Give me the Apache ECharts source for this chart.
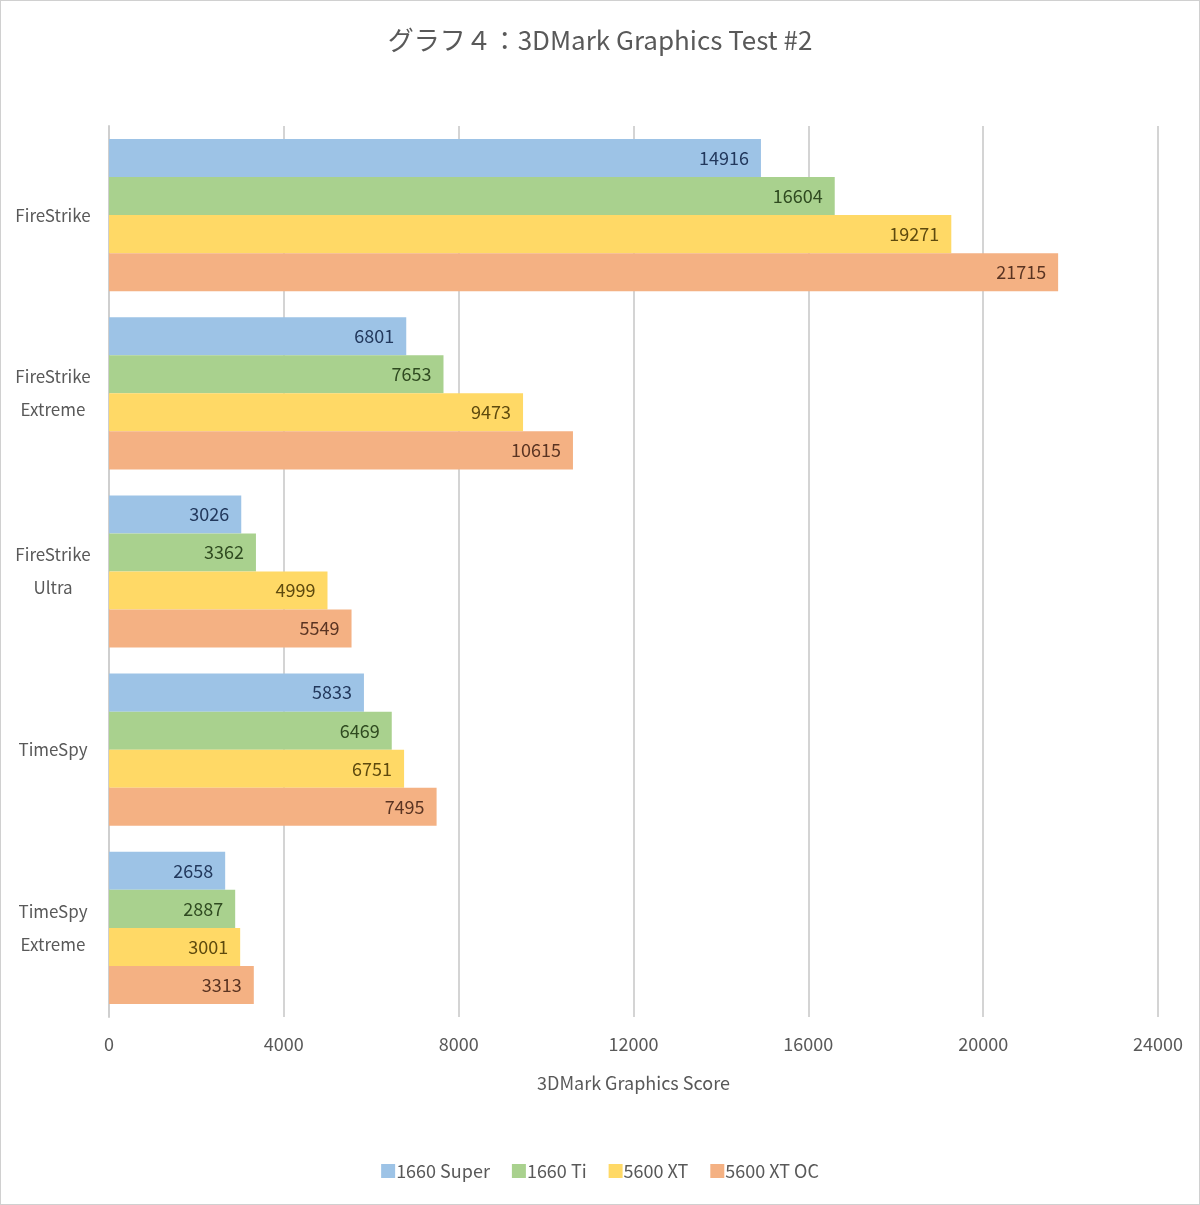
<!DOCTYPE html>
<html>
<head>
<meta charset="utf-8">
<script src="https://cdn.jsdelivr.net/npm/echarts@6/dist/echarts.min.js"></script>
<style>
html,body{margin:0;padding:0;background:#fff;}
#c{width:1198px;height:1203px;border:1px solid #d0d0d0;}
</style>
</head>
<body>
<div id="c"></div>
<script>
const categories = ['FireStrike', 'FireStrike\nExtreme', 'FireStrike\nUltra', 'TimeSpy', 'TimeSpy\nExtreme'];
const seriesNames = ['1660 Super', '1660 Ti', '5600 XT', '5600 XT OC'];
const s1660Super = [14916, 6801, 3026, 5833, 2658];
const s1660Ti = [16604, 7653, 3362, 6469, 2887];
const s5600XT = [19271, 9473, 4999, 6751, 3001];
const s5600XTOC = [21715, 10615, 5549, 7495, 3313];
const xTicks = [0, 4000, 8000, 12000, 16000, 20000, 24000];

const barColors = ['#9dc3e6', '#a9d18e', '#ffd966', '#f4b183'];
const labelColors = ['#22385c', '#2f4a20', '#5e4a0e', '#5a3422'];
const dataSets = [s1660Super, s1660Ti, s5600XT, s5600XTOC];
const FONT = '"Noto Sans CJK JP", "Noto Sans", sans-serif';

const chart = echarts.init(document.getElementById('c'), null, {renderer: 'canvas'});
chart.setOption({
  animation: false,
  backgroundColor: '#fff',
  textStyle: {fontFamily: FONT},
  title: {
    text: 'グラフ４：3DMark Graphics Test #2',
    left: 'center',
    top: 21,
    textStyle: {fontSize: 26, fontWeight: 'normal', color: '#595959', fontFamily: FONT}
  },
  legend: {
    data: seriesNames,
    bottom: 19,
    left: 'center',
    itemWidth: 14,
    itemHeight: 14,
    itemGap: 22,
    icon: 'rect',
    textStyle: {fontSize: 18, color: '#595959', fontFamily: FONT, padding: [0, 0, 0, -4]}
  },
  grid: {left: 108, right: 41, top: 125, bottom: 187, containLabel: false},
  xAxis: {
    type: 'value',
    min: xTicks[0],
    max: xTicks[xTicks.length - 1],
    interval: 4000,
    name: '3DMark Graphics Score',
    nameLocation: 'middle',
    nameGap: 57,
    nameTextStyle: {fontSize: 18, color: '#595959', fontFamily: FONT},
    axisLine: {show: false},
    axisTick: {show: false},
    axisLabel: {fontSize: 18, color: '#595959', margin: 18, fontFamily: FONT, formatter: v => String(v)},
    splitLine: {show: true, lineStyle: {color: '#d4d4d4', width: 2}}
  },
  yAxis: {
    type: 'category',
    data: categories,
    inverse: true,
    axisLine: {show: true, lineStyle: {color: '#cfcfcf', width: 2}},
    axisTick: {show: false},
    axisLabel: {fontSize: 17, color: '#595959', align: 'center', margin: 56, lineHeight: 33, fontFamily: FONT, padding: [0, 0, 5, 0]}
  },
  series: seriesNames.map((name, i) => ({
    name: name,
    type: 'bar',
    data: dataSets[i],
    barGap: '0%',
    barCategoryGap: '14.6%',
    itemStyle: {color: barColors[i]},
    label: {
      show: true,
      position: 'insideRight',
      distance: 12,
      fontSize: 18,
      color: labelColors[i],
      fontFamily: FONT
    }
  }))
});
</script>
</body>
</html>
